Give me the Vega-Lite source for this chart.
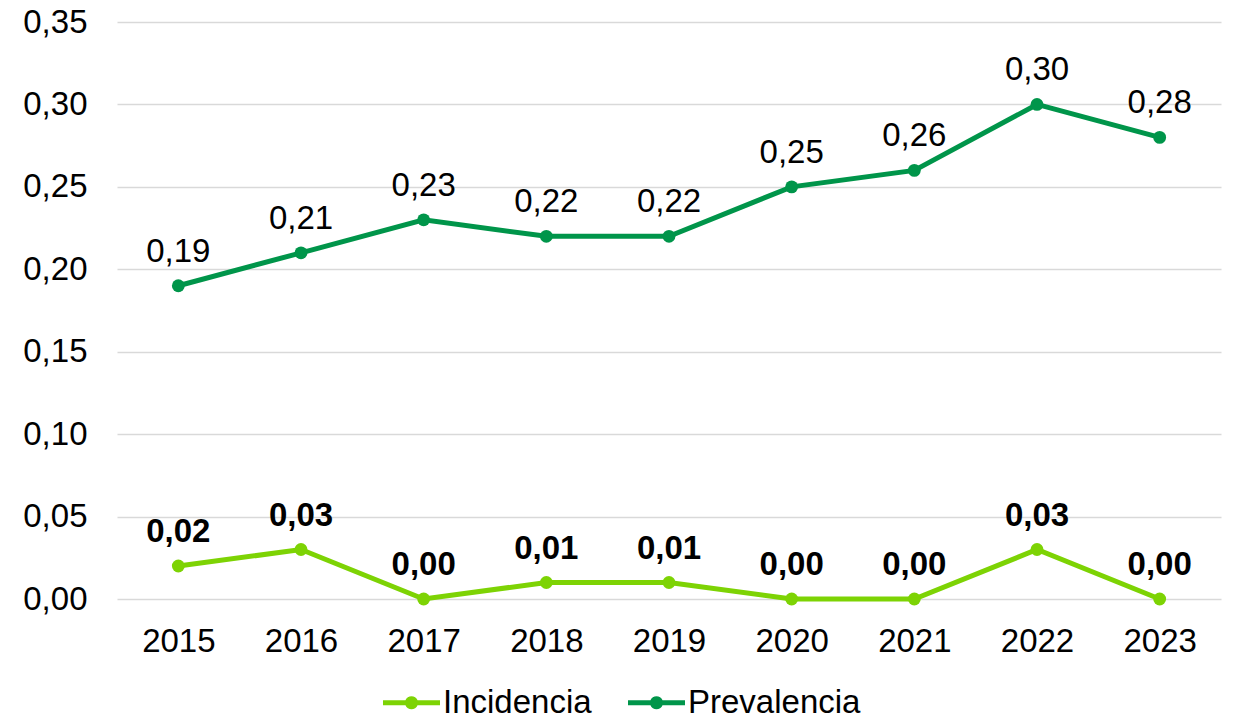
{
  "$schema": "https://vega.github.io/schema/vega-lite/v6.json",
  "width": 1104,
  "height": 577,
  "autosize": "none",
  "padding": {"left": 117, "top": 22, "right": 12, "bottom": 122},
  "background": "white",
  "config": {
    "view": {"stroke": null},
    "font": "Liberation Sans",
    "locale": {"number": {"decimal": ",", "thousands": ".", "grouping": [3], "currency": ["", " €"]}}
  },
  "data": {
    "values": [
      {"year": "2015", "serie": "Incidencia", "valor": 0.02},
      {"year": "2016", "serie": "Incidencia", "valor": 0.03},
      {"year": "2017", "serie": "Incidencia", "valor": 0.00},
      {"year": "2018", "serie": "Incidencia", "valor": 0.01},
      {"year": "2019", "serie": "Incidencia", "valor": 0.01},
      {"year": "2020", "serie": "Incidencia", "valor": 0.00},
      {"year": "2021", "serie": "Incidencia", "valor": 0.00},
      {"year": "2022", "serie": "Incidencia", "valor": 0.03},
      {"year": "2023", "serie": "Incidencia", "valor": 0.00},
      {"year": "2015", "serie": "Prevalencia", "valor": 0.19},
      {"year": "2016", "serie": "Prevalencia", "valor": 0.21},
      {"year": "2017", "serie": "Prevalencia", "valor": 0.23},
      {"year": "2018", "serie": "Prevalencia", "valor": 0.22},
      {"year": "2019", "serie": "Prevalencia", "valor": 0.22},
      {"year": "2020", "serie": "Prevalencia", "valor": 0.25},
      {"year": "2021", "serie": "Prevalencia", "valor": 0.26},
      {"year": "2022", "serie": "Prevalencia", "valor": 0.30},
      {"year": "2023", "serie": "Prevalencia", "valor": 0.28}
    ]
  },
  "encoding": {
    "x": {
      "field": "year", "type": "ordinal",
      "scale": {"type": "point", "padding": 0.5},
      "axis": {"title": null, "labelAngle": 0, "labelFontSize": 33, "labelColor": "#000000", "labelFont": "Liberation Sans", "ticks": false, "domain": false, "grid": false, "labelPadding": 26}
    },
    "y": {
      "field": "valor", "type": "quantitative",
      "scale": {"domain": [0, 0.35], "nice": false, "zero": true},
      "axis": {"title": null, "values": [0, 0.05, 0.1, 0.15, 0.2, 0.25, 0.3, 0.35], "format": ".2f", "labelFontSize": 33, "labelColor": "#000000", "labelFont": "Liberation Sans", "ticks": false, "domain": false, "grid": true, "gridColor": "#d9d9d9", "gridWidth": 1.5, "labelPadding": 30}
    }
  },
  "layer": [
    {
      "mark": {"type": "line", "strokeWidth": 5},
      "encoding": {
        "color": {
          "field": "serie", "type": "nominal",
          "scale": {"domain": ["Incidencia", "Prevalencia"], "range": ["#7dd304", "#00954a"]},
          "legend": {
            "title": null,
            "orient": "none",
            "direction": "horizontal",
            "legendX": 266,
            "legendY": 652,
            "padding": 0,
            "labelFontSize": 33,
            "labelFont": "Liberation Sans",
            "labelColor": "#000000",
            "labelLimit": 0,
            "labelOffset": 3,
            "columnPadding": 36,
            "symbolSize": 3249,
            "symbolType": "M-1,-0.09 H-0.2117 A0.23,0.23 0 0,1 0.2117,-0.09 H1 V0.09 H0.2117 A0.23,0.23 0 0,1 -0.2117,0.09 H-1 Z",
            "encode": {"symbols": {"update": {"fill": {"scale": "color", "field": "value"}, "strokeWidth": {"value": 0}, "opacity": {"value": 1}}}}
          }
        }
      }
    },
    {
      "mark": {"type": "point", "filled": true, "size": 165, "opacity": 1},
      "encoding": {
        "color": {"field": "serie", "type": "nominal", "legend": null}
      }
    },
    {
      "transform": [{"filter": "datum.serie == 'Prevalencia'"}],
      "mark": {"type": "text", "fontSize": 33, "font": "Liberation Sans", "color": "#000000", "baseline": "alphabetic", "dy": -24},
      "encoding": {"text": {"field": "valor", "type": "quantitative", "format": ".2f"}}
    },
    {
      "transform": [{"filter": "datum.serie == 'Incidencia'"}],
      "mark": {"type": "text", "fontSize": 33, "fontWeight": "bold", "font": "Liberation Sans", "color": "#000000", "baseline": "alphabetic", "dy": -24},
      "encoding": {"text": {"field": "valor", "type": "quantitative", "format": ".2f"}}
    }
  ]
}
